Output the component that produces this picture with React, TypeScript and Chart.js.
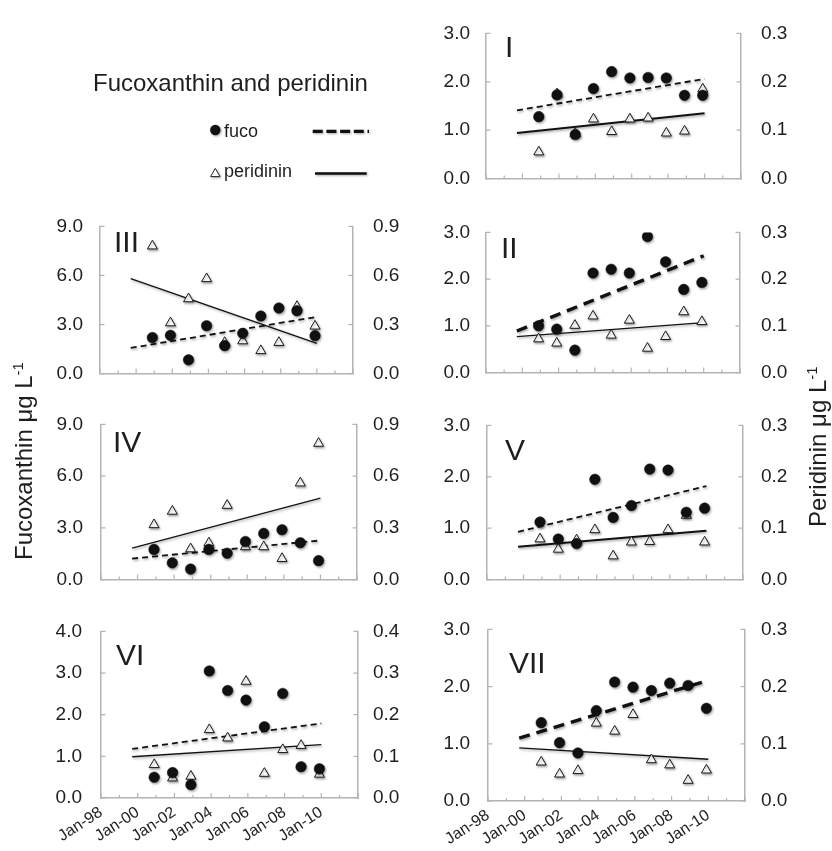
import React, { useEffect, useRef } from 'react';
import { Chart, registerables } from 'chart.js';

Chart.register(...registerables);

const FONT = "'Liberation Sans', Arial, Helvetica, sans-serif";
const AXIS = '#b4b4b4';
const INK = '#1e1e1e';

// ---- data ----
const sampleYears = [2000.9, 2001.9, 2002.9, 2003.9, 2004.9, 2005.9, 2006.9, 2007.9, 2008.9, 2009.9];
const trendYears = [1999.7, 2010.0];
const xTickLabels = ['Jan-98', 'Jan-00', 'Jan-02', 'Jan-04', 'Jan-06', 'Jan-08', 'Jan-10'];

const fucoI = [1.28, 1.73, 0.91, 1.86, 2.21, 2.08, 2.09, 2.08, 1.72, 1.72];
const periI = [0.055, 0.175, 0.093, 0.123, 0.097, 0.123, 0.125, 0.094, 0.098, 0.185];
const fucoTrendI = [1.41, 2.06];
const periTrendI = [0.094, 0.135];

const fucoII = [1.0, 0.93, 0.48, 2.13, 2.21, 2.13, 2.91, 2.37, 1.78, 1.93];
const periII = [0.072, 0.063, 0.101, 0.121, 0.08, 0.112, 0.052, 0.077, 0.13, 0.109];
const fucoTrendII = [0.89, 2.5];
const periTrendII = [0.077, 0.107];

const fucoIII = [2.2, 2.34, 0.84, 2.93, 1.71, 2.46, 3.52, 4.01, 3.84, 2.32];
const periIII = [0.78, 0.31, 0.457, 0.58, 0.19, 0.2, 0.14, 0.19, 0.41, 0.29];
const fucoTrendIII = [1.57, 3.47];
const periTrendIII = [0.58, 0.185];

const fucoIV = [1.75, 0.97, 0.61, 1.75, 1.53, 2.21, 2.68, 2.89, 2.14, 1.1];
const periIV = [0.318, 0.396, 0.178, 0.212, 0.43, 0.19, 0.19, 0.122, 0.56, 0.79];
const fucoTrendIV = [1.22, 2.27];
const periTrendIV = [0.183, 0.472];

const fucoV = [1.12, 0.79, 0.7, 1.95, 1.21, 1.44, 2.15, 2.13, 1.31, 1.39];
const periV = [0.079, 0.059, 0.077, 0.097, 0.046, 0.073, 0.074, 0.097, 0.125, 0.073];
const fucoTrendV = [0.93, 1.82];
const periTrendV = [0.064, 0.095];

const fucoVI = [0.5, 0.61, 0.32, 3.05, 2.58, 2.35, 1.71, 2.51, 0.75, 0.7];
const periVI = [0.08, 0.048, 0.052, 0.164, 0.144, 0.28, 0.059, 0.116, 0.126, 0.057];
const fucoTrendVI = [1.18, 1.79];
const periTrendVI = [0.099, 0.128];

const fucoVII = [1.37, 1.02, 0.84, 1.58, 2.08, 1.99, 1.93, 2.06, 2.02, 1.62];
const periVII = [0.068, 0.047, 0.053, 0.136, 0.122, 0.151, 0.072, 0.063, 0.036, 0.054];
const fucoTrendVII = [1.1, 2.11];
const periTrendVII = [0.093, 0.073];

// ---- layout ----
type Cfg = {
  name: string;
  box: { l: number; r: number; t: number; b: number };
  fuco: number[];
  peri: number[];
  fucoTrend: number[];
  periTrend: number[];
  yMax: number;
  yStep: number;
  y2Max: number;
  y2Step: number;
  bold: boolean;
  solidW: number;
  dx: number;
  dy: number;
  showX: boolean;
  leftEdge: number;
  rightEdge: number;
};

const panels: Cfg[] = [
  { name: 'I', box: { l: 486, r: 741, t: 24, b: 194 }, fuco: fucoI, peri: periI, fucoTrend: fucoTrendI, periTrend: periTrendI, yMax: 3, yStep: 1, y2Max: 0.3, y2Step: 0.1, bold: false, solidW: 2, dx: 19, dy: 24, showX: false, leftEdge: 470, rightEdge: 761 },
  { name: 'III', box: { l: 100, r: 353, t: 217, b: 389 }, fuco: fucoIII, peri: periIII, fucoTrend: fucoTrendIII, periTrend: periTrendIII, yMax: 9, yStep: 3, y2Max: 0.9, y2Step: 0.3, bold: false, solidW: 1.3, dx: 14, dy: 26, showX: false, leftEdge: 83, rightEdge: 373 },
  { name: 'II', box: { l: 486, r: 740, t: 222, b: 389 }, fuco: fucoII, peri: periII, fucoTrend: fucoTrendII, periTrend: periTrendII, yMax: 3, yStep: 1, y2Max: 0.3, y2Step: 0.1, bold: true, solidW: 1.3, dx: 15, dy: 26, showX: false, leftEdge: 470, rightEdge: 761 },
  { name: 'IV', box: { l: 101, r: 357, t: 417, b: 593 }, fuco: fucoIV, peri: periIV, fucoTrend: fucoTrendIV, periTrend: periTrendIV, yMax: 9, yStep: 3, y2Max: 0.9, y2Step: 0.3, bold: false, solidW: 1.3, dx: 12, dy: 28, showX: false, leftEdge: 83, rightEdge: 373 },
  { name: 'V', box: { l: 487, r: 743, t: 418, b: 593 }, fuco: fucoV, peri: periV, fucoTrend: fucoTrendV, periTrend: periTrendV, yMax: 3, yStep: 1, y2Max: 0.3, y2Step: 0.1, bold: false, solidW: 1.9, dx: 18, dy: 35, showX: false, leftEdge: 470, rightEdge: 761 },
  { name: 'VI', box: { l: 101, r: 358, t: 623, b: 798 }, fuco: fucoVI, peri: periVI, fucoTrend: fucoTrendVI, periTrend: periTrendVI, yMax: 4, yStep: 1, y2Max: 0.4, y2Step: 0.1, bold: false, solidW: 1.3, dx: 15, dy: 34, showX: true, leftEdge: 82, rightEdge: 373 },
  { name: 'VII', box: { l: 488, r: 745, t: 622, b: 801 }, fuco: fucoVII, peri: periVII, fucoTrend: fucoTrendVII, periTrend: periTrendVII, yMax: 3, yStep: 1, y2Max: 0.3, y2Step: 0.1, bold: true, solidW: 1.3, dx: 21, dy: 44, showX: true, leftEdge: 470, rightEdge: 761 },
];

const L = 90;
const R = 70;
const T = 22;

const shadowPlugin = {
  id: 'markShadow',
  beforeDatasetsDraw(chart: any) {
    const ctx = chart.ctx;
    ctx.save();
    ctx.shadowColor = 'rgba(0,0,0,0.35)';
    ctx.shadowBlur = 2.5;
    ctx.shadowOffsetX = 1;
    ctx.shadowOffsetY = 1.5;
  },
  afterDatasetsDraw(chart: any) {
    chart.ctx.restore();
  },
};

const innerTicksPlugin = {
  id: 'innerTicks',
  afterDraw(chart: any) {
    const { ctx, chartArea: a, scales } = chart;
    ctx.save();
    ctx.strokeStyle = AXIS;
    ctx.lineWidth = 1.2;
    ctx.beginPath();
    const x = scales.x;
    for (let yr = x.min; yr <= x.max + 1e-6; yr += 1) {
      const px = x.getPixelForValue(yr);
      const len = Math.round(yr - x.min) % 2 === 0 ? 5 : 3;
      ctx.moveTo(px, a.bottom);
      ctx.lineTo(px, a.bottom - len);
    }
    scales.y.ticks.forEach((t: any) => {
      const py = scales.y.getPixelForValue(t.value);
      ctx.moveTo(a.left, py);
      ctx.lineTo(a.left + 4.5, py);
    });
    scales.y2.ticks.forEach((t: any) => {
      const py = scales.y2.getPixelForValue(t.value);
      ctx.moveTo(a.right, py);
      ctx.lineTo(a.right - 4.5, py);
    });
    ctx.stroke();
    ctx.restore();
  },
};

function makeLabelPlugin(cfg: Cfg) {
  return {
    id: 'panelLabel',
    afterDraw(chart: any) {
      const { ctx, chartArea: a } = chart;
      ctx.save();
      ctx.fillStyle = INK;
      ctx.font = `30px ${FONT}`;
      ctx.textBaseline = 'alphabetic';
      ctx.textAlign = 'left';
      ctx.fillText(cfg.name, a.left + cfg.dx, a.top + cfg.dy);
      ctx.restore();
    },
  };
}

function Panel({ cfg }: { cfg: Cfg }) {
  const ref = useRef<HTMLCanvasElement | null>(null);
  const B = cfg.showX ? 52 : 16;
  const w = cfg.box.r - cfg.box.l + L + R;
  const h = cfg.box.b - cfg.box.t + T + B;

  useEffect(() => {
    if (!ref.current) return;
    const pts = (ys: number[]) => ys.map((y, i) => ({ x: sampleYears[i], y }));
    const tr = (ys: number[]) => ys.map((y, i) => ({ x: trendYears[i], y }));
    const chart = new Chart(ref.current, {
      type: 'scatter',
      data: {
        datasets: [
          {
            label: 'fuco',
            data: pts(cfg.fuco),
            yAxisID: 'y',
            pointStyle: 'circle',
            pointRadius: 5.3,
            pointBackgroundColor: '#111',
            pointBorderColor: '#111',
            pointBorderWidth: 0.5,
            order: 0,
          },
          {
            label: 'peridinin',
            data: pts(cfg.peri),
            yAxisID: 'y2',
            pointStyle: 'triangle',
            pointRadius: 5.8,
            pointBackgroundColor: '#ffffff',
            pointBorderColor: '#1a1a1a',
            pointBorderWidth: 1,
            order: 1,
          },
          {
            label: 'fuco trend',
            data: tr(cfg.fucoTrend),
            yAxisID: 'y',
            showLine: true,
            pointRadius: 0,
            borderColor: '#111',
            borderWidth: cfg.bold ? 3.4 : 1.8,
            borderDash: cfg.bold ? [11, 7] : [6, 4],
            order: 2,
          },
          {
            label: 'peridinin trend',
            data: tr(cfg.periTrend),
            yAxisID: 'y2',
            showLine: true,
            pointRadius: 0,
            borderColor: '#111',
            borderWidth: cfg.solidW,
            order: 3,
          },
        ] as any,
      },
      options: {
        animation: false,
        responsive: false,
        maintainAspectRatio: false,
        layout: { padding: { top: T, left: 0, right: 0, bottom: 0 } },
        plugins: { legend: { display: false }, tooltip: { enabled: false }, title: { display: false } },
        events: [],
        scales: {
          x: {
            type: 'linear',
            min: 1998,
            max: 2012,
            grid: { display: false, drawTicks: false },
            border: { display: true, color: AXIS, width: 1.5 },
            ticks: {
              display: cfg.showX,
              stepSize: 2,
              autoSkip: false,
              maxRotation: 33,
              minRotation: 33,
              padding: 5,
              color: INK,
              font: { family: FONT, size: 16 },
              callback: (_v: any, i: number) => xTickLabels[i] ?? '',
            },
            afterFit: (s: any) => {
              s.height = B;
            },
          },
          y: {
            type: 'linear',
            position: 'left',
            min: 0,
            max: cfg.yMax,
            grid: { display: false, drawTicks: false },
            border: { display: true, color: AXIS, width: 1.5 },
            ticks: {
              stepSize: cfg.yStep,
              padding: cfg.box.l - cfg.leftEdge,
              color: INK,
              font: { family: FONT, size: 19 },
              callback: (v: any) => Number(v).toFixed(1),
            },
            afterFit: (s: any) => {
              s.width = L;
            },
          },
          y2: {
            type: 'linear',
            position: 'right',
            min: 0,
            max: cfg.y2Max,
            grid: { display: false, drawTicks: false },
            border: { display: true, color: AXIS, width: 1.5 },
            ticks: {
              stepSize: cfg.y2Step,
              padding: cfg.rightEdge - cfg.box.r,
              color: INK,
              font: { family: FONT, size: 19 },
              callback: (v: any) => Number(v).toFixed(1),
            },
            afterFit: (s: any) => {
              s.width = R;
            },
          },
        },
      } as any,
      plugins: [shadowPlugin, innerTicksPlugin, makeLabelPlugin(cfg)],
    });
    return () => chart.destroy();
  }, []);

  return (
    <canvas
      ref={ref}
      width={w}
      height={h}
      style={{ position: 'absolute', left: cfg.box.l - L, top: cfg.box.t - T, width: w, height: h }}
    />
  );
}

export default function App() {
  return (
    <div
      style={{
        position: 'fixed',
        left: 0,
        top: 0,
        width: 832,
        height: 851,
        overflow: 'hidden',
        background: '#ffffff',
        fontFamily: FONT,
      }}
    >
      {panels.map((p) => (
        <Panel key={p.name} cfg={p} />
      ))}
      <svg
        width={832}
        height={851}
        style={{ position: 'absolute', left: 0, top: 0, pointerEvents: 'none' }}
      >
        <text x={93} y={91} fontSize={24} fill={INK} fontFamily={FONT}>
          Fucoxanthin and peridinin
        </text>
        <g style={{ filter: 'drop-shadow(1px 1.5px 1.2px rgba(0,0,0,0.35))' }}>
          <circle cx={215.3} cy={130} r={5.2} fill="#111" />
          <polygon points="210.6,176.6 220,176.6 215.3,168.4" fill="#fff" stroke="#222" strokeWidth={1} />
          <line x1={312.7} y1={131.3} x2={369} y2={131.3} stroke="#111" strokeWidth={3.2} strokeDasharray="10 3.7" />
          <line x1={315} y1={173.5} x2={366.7} y2={173.5} stroke="#111" strokeWidth={2.6} />
        </g>
        <text x={224} y={136.7} fontSize={18} fill={INK} fontFamily={FONT}>
          fuco
        </text>
        <text x={224} y={177} fontSize={18} fill={INK} fontFamily={FONT}>
          peridinin
        </text>
        <text transform="translate(31.5,560) rotate(-90)" fontSize={24} fill={INK} fontFamily={FONT}>
          Fucoxanthin μg L<tspan fontSize={15} dy={-9}>-1</tspan>
        </text>
        <text transform="translate(826,527) rotate(-90)" fontSize={24} fill={INK} fontFamily={FONT}>
          Peridinin μg L<tspan fontSize={15} dy={-9}>-1</tspan>
        </text>
      </svg>
    </div>
  );
}
